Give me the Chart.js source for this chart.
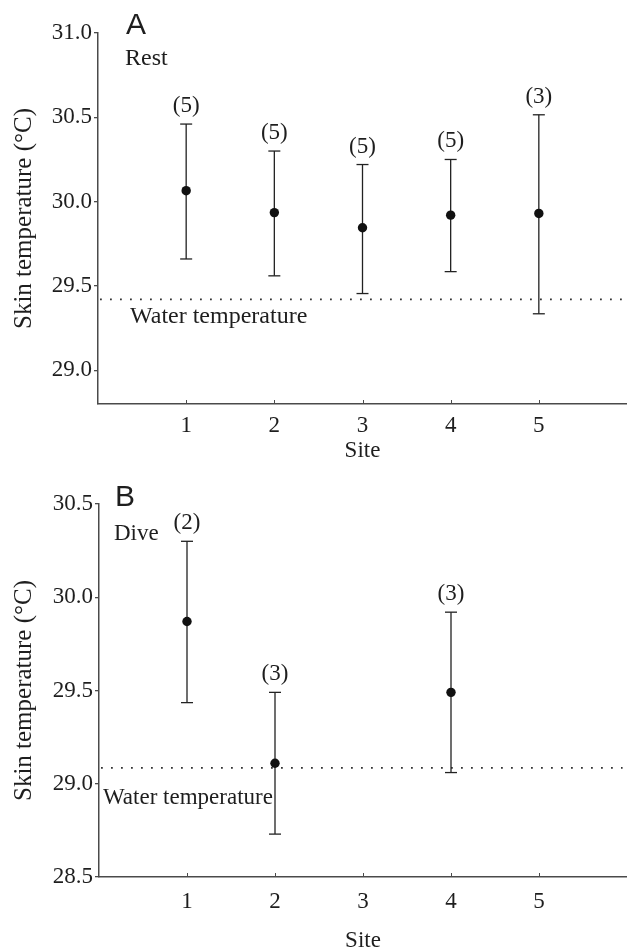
<!DOCTYPE html>
<html>
<head>
<meta charset="utf-8">
<script src="https://cdn.jsdelivr.net/npm/chart.js@4.4.0/dist/chart.umd.min.js"></script>
<style>
  body { margin: 0; background: #fff; }
  .panel { position: relative; width: 627px; }
</style>
</head>
<body>
<div class="panel" style="height:470px"><canvas id="restChart" width="627" height="470"></canvas></div>
<div class="panel" style="height:480px"><canvas id="diveChart" width="627" height="480"></canvas></div>
<script>
// Painel A: repouso
const restSites = [1, 2, 3, 4, 5];
const restMean = [30.065, 29.935, 29.845, 29.92, 29.93];
const restUpper = [30.46, 30.30, 30.22, 30.25, 30.515];
const restLower = [29.66, 29.56, 29.455, 29.585, 29.335];
const restN = [5, 5, 5, 5, 3];
const restWater = 29.42;

// Painel B: mergulho
const diveSites = [1, 2, 4];
const diveMean = [29.87, 29.11, 29.49];
const diveUpper = [30.30, 29.49, 29.92];
const diveLower = [29.435, 28.73, 29.06];
const diveN = [2, 3, 3];
const diveWater = 29.085;

const siteTicks = [1, 2, 3, 4, 5];
const restYTicks = [29.0, 29.5, 30.0, 30.5, 31.0];
const diveYTicks = [28.5, 29.0, 29.5, 30.0, 30.5];

const INK = '#1e1e1e';
const AXIS = '#4a4a4a';
const SERIF = '"Liberation Serif", "Times New Roman", serif';

Chart.defaults.font.family = SERIF;
Chart.defaults.font.size = 23;
Chart.defaults.color = INK;

// textos do painel e marcas internas do eixo x
const panelText = {
  id: 'panelText',
  afterDatasetsDraw(chart, args, o) {
    const { ctx, chartArea, scales: { x, y } } = chart;
    ctx.save();
    ctx.fillStyle = INK;
    ctx.textBaseline = 'alphabetic';
    ctx.textAlign = 'left';
    ctx.font = '30px "Liberation Sans", Arial, sans-serif';
    ctx.fillText(o.letter, chartArea.left + o.letterX, chartArea.top + o.letterY);
    ctx.font = o.textSize + 'px ' + SERIF;
    ctx.fillText(o.cond, chartArea.left + o.condX, chartArea.top + o.condY);
    ctx.fillText('Water temperature', chartArea.left + o.waterX, y.getPixelForValue(o.water) + o.waterDy);
    ctx.font = '23px ' + SERIF;
    ctx.textAlign = 'center';
    o.sites.forEach((s, i) => {
      ctx.fillText('(' + o.n[i] + ')', x.getPixelForValue(s), y.getPixelForValue(o.upper[i]) - 12);
    });
    ctx.strokeStyle = AXIS;
    ctx.lineWidth = 1;
    x.ticks.forEach(t => {
      const px = Math.round(x.getPixelForValue(t.value)) + 0.5;
      ctx.beginPath();
      ctx.moveTo(px, chartArea.bottom);
      ctx.lineTo(px, chartArea.bottom - 4);
      ctx.stroke();
    });
    ctx.restore();
  }
};

function makePanel(id, p) {
  const bars = [];
  p.sites.forEach((s, i) => {
    bars.push({ x: s, y: p.lower[i] }, { x: s, y: p.upper[i] }, { x: s + 0.5, y: null });
  });
  const caps = [];
  p.sites.forEach((s, i) => {
    caps.push({ x: s, y: p.upper[i] }, { x: s, y: p.lower[i] });
  });

  return new Chart(document.getElementById(id), {
    type: 'line',
    data: {
      datasets: [{
        label: 'mean',
        data: p.sites.map((s, i) => ({ x: s, y: p.mean[i] })),
        showLine: false,
        pointRadius: 4.7,
        pointBackgroundColor: '#111',
        pointBorderWidth: 0
      }, {
        label: 'caps',
        data: caps,
        showLine: false,
        pointStyle: 'line',
        pointRadius: 6,
        pointBorderColor: '#222',
        pointBorderWidth: 1.3
      }, {
        label: 'bars',
        data: bars,
        borderColor: '#222',
        borderWidth: 1.3,
        pointRadius: 0,
        spanGaps: false
      }, {
        label: 'water',
        data: [{ x: 0, y: p.water }, { x: 5.95, y: p.water }],
        borderColor: '#333',
        borderWidth: 1.8,
        borderDash: [1.8, 8.2],
        borderDashOffset: -2,
        pointRadius: 0
      }]
    },
    options: {
      responsive: false,
      animation: false,
      layout: { autoPadding: false, padding: { top: p.top, left: 0, right: 0, bottom: 0 } },
      plugins: {
        legend: { display: false },
        tooltip: { enabled: false },
        panelText: {
          letter: p.letter, letterX: p.letterX, letterY: p.letterY,
          cond: p.cond, condX: p.condX, condY: p.condY, textSize: p.textSize,
          water: p.water, waterX: p.waterX, waterDy: p.waterDy,
          sites: p.sites, n: p.n, upper: p.upper
        }
      },
      scales: {
        x: {
          type: 'linear',
          min: 0,
          max: 6,
          afterBuildTicks: s => { s.ticks = siteTicks.map(v => ({ value: v })); },
          afterFit: s => { s.height = p.xHeight; s.paddingLeft = 0; s.paddingRight = 0; },
          grid: { display: false, drawTicks: false },
          border: { display: true, color: AXIS, width: 1.5 },
          ticks: { padding: p.xPad, callback: v => String(v) },
          title: { display: true, text: 'Site', padding: { top: 0, bottom: p.titlePad } }
        },
        y: {
          min: p.yMin,
          max: p.yMax,
          afterBuildTicks: s => { s.ticks = p.yTicks.map(v => ({ value: v })); },
          afterFit: s => { s.width = p.yWidth; },
          grid: { drawOnChartArea: false, drawTicks: true, tickLength: 4, color: AXIS, lineWidth: 1.3 },
          border: { display: true, color: AXIS, width: 1.5 },
          ticks: { padding: 2, callback: v => v.toFixed(1) },
          title: {
            display: true, text: 'Skin temperature (°C)',
            font: { size: 25 }, padding: { top: 9, bottom: 0 }
          }
        }
      }
    },
    plugins: [panelText]
  });
}

makePanel('restChart', {
  sites: restSites, mean: restMean, upper: restUpper, lower: restLower, n: restN, water: restWater,
  yMin: 28.8, yMax: 31.0, yTicks: restYTicks,
  letter: 'A', letterX: 28, letterY: 1, cond: 'Rest', condX: 27, condY: 32, textSize: 24,
  waterX: 32, waterDy: 24,
  top: 33, yWidth: 98, xHeight: 66, xPad: 8, titlePad: 5
});

makePanel('diveChart', {
  sites: diveSites, mean: diveMean, upper: diveUpper, lower: diveLower, n: diveN, water: diveWater,
  yMin: 28.5, yMax: 30.5, yTicks: diveYTicks,
  letter: 'B', letterX: 16, letterY: 2, cond: 'Dive', condX: 15, condY: 36, textSize: 23,
  waterX: 4, waterDy: 36,
  top: 34, yWidth: 99, xHeight: 73, xPad: 11, titlePad: -5
});
</script>
</body>
</html>
